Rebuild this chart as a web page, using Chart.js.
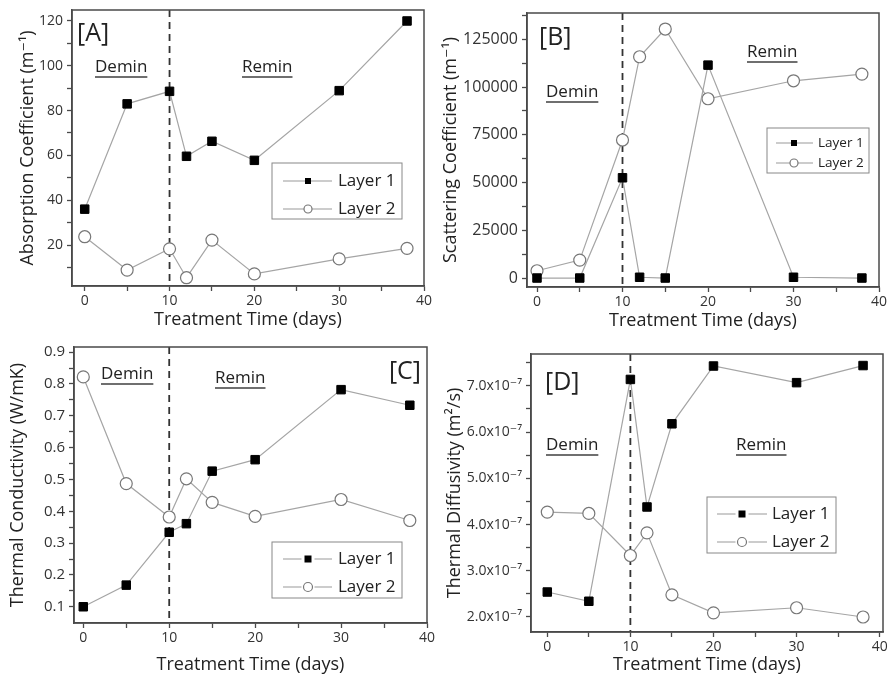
<!DOCTYPE html>
<html lang="en">
<head>
<meta charset="UTF-8">
<title>Demin / Remin - optical and thermal properties</title>
<script src="https://cdn.jsdelivr.net/npm/chart.js@4.4.0/dist/chart.umd.min.js"></script>
<style>
  body { margin: 0; background: #fff; }
  #wrap { position: relative; width: 895px; height: 677px; }
  canvas { position: absolute; }
</style>
</head>
<body>
<div id="wrap">
  <canvas id="chartA"></canvas>
  <canvas id="chartB"></canvas>
  <canvas id="chartC"></canvas>
  <canvas id="chartD"></canvas>
</div>

<script>
// treatment days (x) shared by every panel
const days = [0, 5, 10, 12, 15, 20, 30, 38];
const dashDay = 10;

// [A] absorption coefficient (1/m)
const absLayer1 = [36, 83, 88.6, 59.6, 66.3, 57.8, 88.9, 120];
const absLayer2 = [23.7, 8.8, 18.3, 5.4, 22.2, 7.1, 13.8, 18.5];
// [B] scattering coefficient (1/m)
const scatLayer1 = [0, 0, 52500, 400, 0, 111500, 400, 0];
const scatLayer2 = [3800, 9400, 72300, 115900, 130400, 93900, 103300, 106800];
// [C] thermal conductivity (W/mK)
const condLayer1 = [0.100, 0.168, 0.334, 0.361, 0.526, 0.562, 0.782, 0.733];
const condLayer2 = [0.822, 0.487, 0.382, 0.502, 0.428, 0.384, 0.437, 0.371];
// [D] thermal diffusivity (m2/s)
const diffLayer1 = [2.54e-7, 2.34e-7, 7.14e-7, 4.38e-7, 6.18e-7, 7.43e-7, 7.07e-7, 7.44e-7];
const diffLayer2 = [4.27e-7, 4.24e-7, 3.33e-7, 3.82e-7, 2.48e-7, 2.09e-7, 2.20e-7, 2.00e-7];

// tick labels
const xMajor = [0, 10, 20, 30, 40];
const xMinor = [5, 15, 25, 35];
const absMajor = [20, 40, 60, 80, 100, 120];
const absMinor = [10, 30, 50, 70, 90, 110];
const scatMajor = [0, 25000, 50000, 75000, 100000, 125000];
const scatMinor = [12500, 37500, 62500, 87500, 112500, 137500];
const condMajor = [0.1, 0.2, 0.3, 0.4, 0.5, 0.6, 0.7, 0.8, 0.9];
const condMinor = [0.15, 0.25, 0.35, 0.45, 0.55, 0.65, 0.75, 0.85];
const diffMajor = [2e-7, 3e-7, 4e-7, 5e-7, 6e-7, 7e-7];
const diffMinor = [2.5e-7, 3.5e-7, 4.5e-7, 5.5e-7, 6.5e-7, 7.5e-7];

const seriesNames = ['Layer 1', 'Layer 2'];
const xTitle = 'Treatment Time (days)';

const FONT = "'Open Sans', 'DejaVu Sans', sans-serif";
const AXIS = '#4a4a4a';
const TEXT = '#222';

// draws the dashed divider, the box frame, panel labels and the legend box
const panelDecor = {
  id: 'panelDecor',
  beforeDatasetsDraw(chart) {
    const {ctx, chartArea: a} = chart;
    const px = chart.scales.x.getPixelForValue(dashDay);
    ctx.save();
    ctx.strokeStyle = '#333';
    ctx.lineWidth = 1.8;
    ctx.setLineDash([7, 5]);
    ctx.beginPath();
    ctx.moveTo(px, a.top);
    ctx.lineTo(px, a.bottom);
    ctx.stroke();
    ctx.restore();
  },
  afterDraw(chart, args, opts) {
    const {ctx, chartArea: a} = chart;
    const ox = opts.left, oy = opts.top;
    ctx.save();
    ctx.strokeStyle = AXIS;
    ctx.lineWidth = 1.5;
    ctx.strokeRect(a.left, a.top, a.right - a.left, a.bottom - a.top);

    ctx.fillStyle = TEXT;
    ctx.textBaseline = 'middle';
    opts.texts.forEach(t => {
      ctx.font = t.size + 'px ' + FONT;
      ctx.textAlign = t.align || 'left';
      const x = t.x - ox, y = t.y - oy;
      ctx.fillText(t.t, x, y);
      if (t.u) {
        const w = ctx.measureText(t.t).width;
        ctx.fillRect(x, y + t.size * 0.55, w, 1.3);
      }
    });

    const L = opts.legend;
    ctx.strokeStyle = '#888';
    ctx.lineWidth = 1;
    ctx.strokeRect(L.x - ox, L.y - oy, L.w, L.h);
    ctx.font = L.size + 'px ' + FONT;
    ctx.textAlign = 'left';
    chart.data.datasets.forEach((ds, i) => {
      const y = L.rows[i] - oy;
      const mx = L.mk - ox;
      ctx.strokeStyle = '#999';
      ctx.lineWidth = 1;
      ctx.beginPath();
      if (L.gap) {
        ctx.moveTo(L.l0 - ox, y); ctx.lineTo(mx - L.ms - 3, y);
        ctx.moveTo(mx + L.ms + 3, y); ctx.lineTo(L.l1 - ox, y);
      } else {
        ctx.moveTo(L.l0 - ox, y); ctx.lineTo(L.l1 - ox, y);
      }
      ctx.stroke();
      if (ds.pointStyle === 'rect') {
        ctx.fillStyle = '#000';
        ctx.fillRect(mx - L.ms, y - L.ms, L.ms * 2, L.ms * 2);
      } else {
        ctx.fillStyle = '#fff';
        ctx.strokeStyle = '#777';
        ctx.lineWidth = 1.2;
        ctx.beginPath();
        ctx.arc(mx, y, L.ms + 1, 0, Math.PI * 2);
        ctx.fill();
        ctx.stroke();
      }
      ctx.fillStyle = TEXT;
      ctx.fillText(ds.label, L.tx - ox, y);
    });
    ctx.restore();
  }
};

function tickList(major, minor) {
  return major.concat(minor).sort((p, q) => p - q).map(v => ({value: v}));
}

function makePanel(p) {
  const el = document.getElementById(p.id);
  el.width = p.width;
  el.height = p.height;
  el.style.left = p.left + 'px';
  el.style.top = p.top + 'px';

  const toPoints = vals => days.map((d, i) => ({x: d, y: vals[i]}));
  const isMajor = (list, v) => list.some(m => Math.abs(m - v) < 1e-12);

  new Chart(el, {
    type: 'line',
    data: {
      datasets: [
        {
          label: seriesNames[0], data: toPoints(p.layer1),
          borderColor: '#a5a5a5', borderWidth: 1.2,
          pointStyle: 'rect', pointRadius: 6, pointHoverRadius: 6,
          pointBackgroundColor: '#000', pointBorderColor: '#000', pointBorderWidth: 1,
          clip: false
        },
        {
          label: seriesNames[1], data: toPoints(p.layer2),
          borderColor: '#a5a5a5', borderWidth: 1.2,
          pointStyle: 'circle', pointRadius: 6, pointHoverRadius: 6,
          pointBackgroundColor: '#fff', pointBorderColor: '#777', pointBorderWidth: 1.2,
          clip: false
        }
      ]
    },
    options: {
      responsive: false,
      animation: false,
      events: [],
      layout: {padding: {left: 0, top: p.padTop, right: p.padRight, bottom: 0}},
      plugins: {
        legend: {display: false},
        tooltip: {enabled: false},
        panelDecor: {left: p.left, top: p.top, texts: p.texts, legend: p.legend}
      },
      scales: {
        x: {
          type: 'linear', min: p.xMin, max: p.xMax,
          afterBuildTicks: s => { s.ticks = tickList(xMajor, xMinor); },
          afterFit: s => {
            s.height = p.xHeight;
            s.paddingLeft = s.paddingRight = s.paddingTop = s.paddingBottom = 0;
          },
          ticks: {
            autoSkip: false, maxRotation: 0, padding: 2, color: '#333',
            font: {family: FONT, size: 14},
            callback: v => isMajor(xMajor, v) ? String(v) : ''
          },
          grid: {drawOnChartArea: false, tickLength: 5, color: AXIS, tickWidth: 1.3},
          border: {color: AXIS, width: 1.5},
          title: {
            display: true, text: xTitle, color: TEXT,
            font: {family: FONT, size: 18}, padding: {top: 0, bottom: p.xTitlePad}
          }
        },
        y: {
          type: 'linear', min: p.yMin, max: p.yMax,
          afterBuildTicks: s => { s.ticks = tickList(p.yMajor, p.yMinor); },
          afterFit: s => {
            s.width = p.yWidth;
            s.paddingLeft = s.paddingRight = s.paddingTop = s.paddingBottom = 0;
          },
          ticks: {
            autoSkip: false, padding: 4, color: '#333',
            font: {family: FONT, size: p.yTickSize},
            callback: v => isMajor(p.yMajor, v) ? p.yFmt(v) : ''
          },
          grid: {drawOnChartArea: false, tickLength: 5, color: AXIS, tickWidth: 1.3},
          border: {color: AXIS, width: 1.5},
          title: {
            display: true, text: p.yTitle, color: TEXT,
            font: {family: FONT, size: 18}, padding: {top: p.yTitlePad, bottom: 0}
          }
        }
      }
    },
    plugins: [panelDecor]
  });
}

makePanel({
  id: 'chartA', left: 0, top: 0, width: 445, height: 335,
  padTop: 10, padRight: 21, yWidth: 72, xHeight: 49, xTitlePad: 4, yTitlePad: 17,
  xMin: -1.5, xMax: 40, yMin: 1.7, yMax: 124.9,
  yMajor: absMajor, yMinor: absMinor, yTickSize: 14, yFmt: v => String(v),
  yTitle: 'Absorption Coefficient (m\u207B\u00B9)',
  layer1: absLayer1, layer2: absLayer2,
  texts: [
    {t: '[A]', x: 77, y: 34, size: 25},
    {t: 'Demin', x: 95, y: 67, size: 17, u: true},
    {t: 'Remin', x: 242, y: 67, size: 17, u: true}
  ],
  legend: {x: 272, y: 163, w: 130, h: 56, rows: [181, 209], l0: 283, l1: 332, mk: 308, tx: 338, size: 17, ms: 3, gap: false}
});

makePanel({
  id: 'chartB', left: 440, top: 0, width: 455, height: 335,
  padTop: 13, padRight: 16, yWidth: 87, xHeight: 48, xTitlePad: 3, yTitlePad: 0,
  xMin: -1.17, xMax: 40, yMin: -4700, yMax: 138800,
  yMajor: scatMajor, yMinor: scatMinor, yTickSize: 16, yFmt: v => String(v),
  yTitle: 'Scattering Coefficient (m\u207B\u00B9)',
  layer1: scatLayer1, layer2: scatLayer2,
  texts: [
    {t: '[B]', x: 539, y: 38, size: 25},
    {t: 'Demin', x: 546, y: 92, size: 17, u: true},
    {t: 'Remin', x: 747, y: 52, size: 17, u: true}
  ],
  legend: {x: 767, y: 128, w: 102, h: 45, rows: [143, 163], l0: 776, l1: 813, mk: 794, tx: 818, size: 13.5, ms: 3, gap: false}
});

makePanel({
  id: 'chartC', left: 0, top: 335, width: 445, height: 342,
  padTop: 12, padRight: 18, yWidth: 74, xHeight: 54, xTitlePad: 1, yTitlePad: 7,
  xMin: -1.08, xMax: 40, yMin: 0.049, yMax: 0.916,
  yMajor: condMajor, yMinor: condMinor, yTickSize: 15, yFmt: v => v.toFixed(1),
  yTitle: 'Thermal Conductivity (W/mK)',
  layer1: condLayer1, layer2: condLayer2,
  texts: [
    {t: '[C]', x: 421, y: 372, size: 25, align: 'right'},
    {t: 'Demin', x: 101, y: 374, size: 17, u: true},
    {t: 'Remin', x: 215, y: 378, size: 17, u: true}
  ],
  legend: {x: 272, y: 542, w: 130, h: 56, rows: [559, 587], l0: 283, l1: 332, mk: 308, tx: 338, size: 17, ms: 3.5, gap: true}
});

makePanel({
  id: 'chartD', left: 440, top: 335, width: 455, height: 342,
  padTop: 19, padRight: 12, yWidth: 91, xHeight: 45, xTitlePad: 1, yTitlePad: 4,
  xMin: -1.96, xMax: 40.4, yMin: 1.675e-7, yMax: 7.69e-7,
  yMajor: diffMajor, yMinor: diffMinor, yTickSize: 14,
  yFmt: v => (v * 1e7).toFixed(1) + 'x10\u207B\u2077',
  yTitle: 'Thermal Diffusivity (m\u00B2/s)',
  layer1: diffLayer1, layer2: diffLayer2,
  texts: [
    {t: '[D]', x: 545, y: 383, size: 25},
    {t: 'Demin', x: 546, y: 445, size: 17, u: true},
    {t: 'Remin', x: 736, y: 445, size: 17, u: true}
  ],
  legend: {x: 707, y: 497, w: 129, h: 56, rows: [514, 542], l0: 717, l1: 767, mk: 742, tx: 772, size: 17, ms: 3.5, gap: true}
});
</script>
</body>
</html>
